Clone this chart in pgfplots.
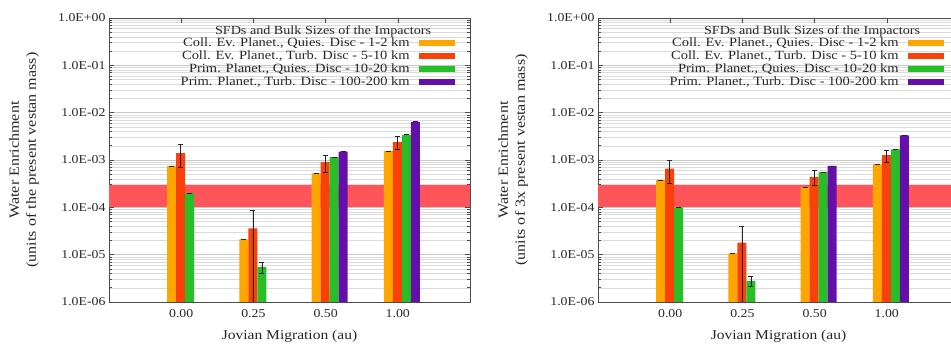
\documentclass[border=0pt]{standalone}
\usepackage{fontspec}
\setmainfont[FakeStretch=1.15]{Liberation Serif}
\usepackage{pgfplots}
\pgfplotsset{compat=1.18}
\definecolor{cOr}{RGB}{255,165,0}
\definecolor{cRe}{RGB}{250,65,10}
\definecolor{cGr}{RGB}{40,190,40}
\definecolor{cPu}{RGB}{100,15,170}
\definecolor{bandR}{RGB}{255,85,90}
\pgfplotsset{
  every axis/.append style={
    width=361pt, height=284pt, scale only axis,
    ymin=1e-6, ymax=1, log origin y=infty,
    xmin=-1, xmax=4, xtick={0,1,2,3}, xticklabels={0.00,0.25,0.50,1.00},
    ytick={1e-6,1e-5,1e-4,1e-3,1e-2,1e-1,1},
    yticklabels={1.0E-06,1.0E-05,1.0E-04,1.0E-03,1.0E-02,1.0E-01,1.0E+00},
    minor ytick={2e-6,3e-6,4e-6,5e-6,6e-6,7e-6,8e-6,9e-6,
                 2e-5,3e-5,4e-5,5e-5,6e-5,7e-5,8e-5,9e-5,
                 2e-4,3e-4,4e-4,5e-4,6e-4,7e-4,8e-4,9e-4,
                 2e-3,3e-3,4e-3,5e-3,6e-3,7e-3,8e-3,9e-3,
                 2e-2,3e-2,4e-2,5e-2,6e-2,7e-2,8e-2,9e-2,
                 0.2,0.3,0.4,0.5,0.6,0.7,0.8,0.9},
    ymajorgrids, yminorgrids,
    major grid style={black!22, line width=0.6pt},
    minor grid style={black!14, line width=0.5pt},
    axis line style={black!70, line width=0.8pt},
    tick style={black!70, line width=0.6pt},
    major tick length=5pt, minor tick length=3pt,
    tick label style={font=\fontsize{12}{12}\selectfont, text=black!85},
    xticklabel style={yshift=-4pt},
    xlabel={Jovian Migration (au)},
    xlabel style={font=\fontsize{13.5}{14}\selectfont, text=black!85, at={(axis description cs:0.5,-0.12)}, anchor=center},
    ylabel style={font=\fontsize{14}{17}\selectfont, text=black!85, align=center, at={(axis description cs:-0.2355,0.5)}, anchor=center},
    legend style={draw=none, fill=none, at={(axis description cs:0.958,0.935)}, anchor=north east,
      font=\fontsize{12.6}{12.6}\selectfont, text=black!85, inner sep=0pt, row sep=0pt, column sep=8pt,
      nodes={inner sep=1pt, text height=8.5pt, text depth=2.5pt}},
    legend cell align=right, legend plot pos=right,
  },
}
\newcommand{\legendentries}{%
  \addlegendimage{fill=cOr, draw=none}\addlegendentry{Coll. Ev. Planet., Quies. Disc - 1-2 km}
  \addlegendimage{fill=cRe, draw=none}\addlegendentry{Coll. Ev. Planet., Turb. Disc - 5-10 km}
  \addlegendimage{fill=cGr, draw=none}\addlegendentry{Prim. Planet., Quies. Disc - 10-20 km}
  \addlegendimage{fill=cPu, draw=none}\addlegendentry{Prim. Planet., Turb. Disc - 100-200 km}
  \node[font=\fontsize{12.3}{12.3}\selectfont, text=black!85] at (axis description cs:0.593,0.952) {SFDs and Bulk Sizes of the Impactors};
}
\begin{document}
\begin{tikzpicture}
\useasboundingbox (0pt,0pt) rectangle (951pt,347pt);
\begin{axis}[ymode=log, anchor=south west, at={(109pt,45pt)},
  legend image code/.code={\fill[#1] (0pt,-3pt) rectangle (36pt,3pt);},
  ylabel={Water Enrichment\\(units of the present vestan mass)}]
\legendentries
\addplot[draw=none, fill=bandR, forget plot] coordinates {(-1,1e-4) (4,1e-4) (4,3e-4) (-1,3e-4)} -- cycle;
\addplot[ybar, bar width=9pt, bar shift=0pt, fill=cOr, draw=none, forget plot,
  error bars/.cd, y dir=both, y explicit, error bar style={black!85, line width=0.7pt}, error mark options={rotate=90, black!85, mark size=2.5pt, line width=0.7pt}]
  coordinates {(-0.132,7.5e-4) +- (0,0) (0.868,2.1e-5) +- (0,0) (1.868,5.2e-4) +- (0,0) (2.868,1.55e-3) +- (0,0)};
\addplot[ybar, bar width=9pt, bar shift=0pt, fill=cRe, draw=none, forget plot,
  error bars/.cd, y dir=both, y explicit, error bar style={black!85, line width=0.7pt}, error mark options={rotate=90, black!85, mark size=2.5pt, line width=0.7pt}]
  coordinates {(-0.007,1.4e-3) +- (0,0.7e-3) (0.993,3.6e-5) += (0,5.1e-5) -= (0,3.5e-5) (1.993,9e-4) +- (0,3.5e-4) (2.993,2.4e-3) +- (0,0.7e-3)};
\addplot[ybar, bar width=9pt, bar shift=0pt, fill=cGr, draw=none, forget plot,
  error bars/.cd, y dir=both, y explicit, error bar style={black!85, line width=0.7pt}, error mark options={rotate=90, black!85, mark size=2.5pt, line width=0.7pt}]
  coordinates {(0.118,2e-4) +- (0,0) (1.118,5.5e-6) +- (0,1.5e-6) (2.118,1.15e-3) +- (0,0) (3.118,3.4e-3) +- (0,0)};
\addplot[ybar, bar width=9pt, bar shift=0pt, fill=cPu, draw=none, forget plot,
  error bars/.cd, y dir=both, y explicit, error bar style={black!85, line width=0.7pt}, error mark options={rotate=90, black!85, mark size=2.5pt, line width=0.7pt}]
  coordinates {(2.242,1.5e-3) +- (0,0) (3.242,6.4e-3) +- (0,0)};
\end{axis}
\begin{axis}[ymode=log, anchor=south west, at={(598pt,45pt)},
  legend image code/.code={\fill[#1] (0pt,-3pt) rectangle (36pt,3pt);},
  ylabel={Water Enrichment\\(units of 3x present vestan mass)}]
\legendentries
\addplot[draw=none, fill=bandR, forget plot] coordinates {(-1,1e-4) (4,1e-4) (4,3e-4) (-1,3e-4)} -- cycle;
\addplot[ybar, bar width=9pt, bar shift=0pt, fill=cOr, draw=none, forget plot,
  error bars/.cd, y dir=both, y explicit, error bar style={black!85, line width=0.7pt}, error mark options={rotate=90, black!85, mark size=2.5pt, line width=0.7pt}]
  coordinates {(-0.132,3.8e-4) +- (0,0) (0.868,1.07e-5) +- (0,0) (1.868,2.7e-4) +- (0,0) (2.868,8.1e-4) +- (0,0)};
\addplot[ybar, bar width=9pt, bar shift=0pt, fill=cRe, draw=none, forget plot,
  error bars/.cd, y dir=both, y explicit, error bar style={black!85, line width=0.7pt}, error mark options={rotate=90, black!85, mark size=2.5pt, line width=0.7pt}]
  coordinates {(-0.007,6.6e-4) +- (0,3.4e-4) (0.993,1.8e-5) += (0,2.2e-5) -= (0,1.7e-5) (1.993,4.4e-4) +- (0,1.5e-4) (2.993,1.26e-3) +- (0,0.35e-3)};
\addplot[ybar, bar width=9pt, bar shift=0pt, fill=cGr, draw=none, forget plot,
  error bars/.cd, y dir=both, y explicit, error bar style={black!85, line width=0.7pt}, error mark options={rotate=90, black!85, mark size=2.5pt, line width=0.7pt}]
  coordinates {(0.118,1e-4) +- (0,0) (1.118,2.8e-6) +- (0,0.7e-6) (2.118,5.6e-4) +- (0,0) (3.118,1.67e-3) +- (0,0)};
\addplot[ybar, bar width=9pt, bar shift=0pt, fill=cPu, draw=none, forget plot,
  error bars/.cd, y dir=both, y explicit, error bar style={black!85, line width=0.7pt}, error mark options={rotate=90, black!85, mark size=2.5pt, line width=0.7pt}]
  coordinates {(2.242,7.5e-4) +- (0,0) (3.242,3.3e-3) +- (0,0)};
\end{axis}
\end{tikzpicture}
\end{document}
